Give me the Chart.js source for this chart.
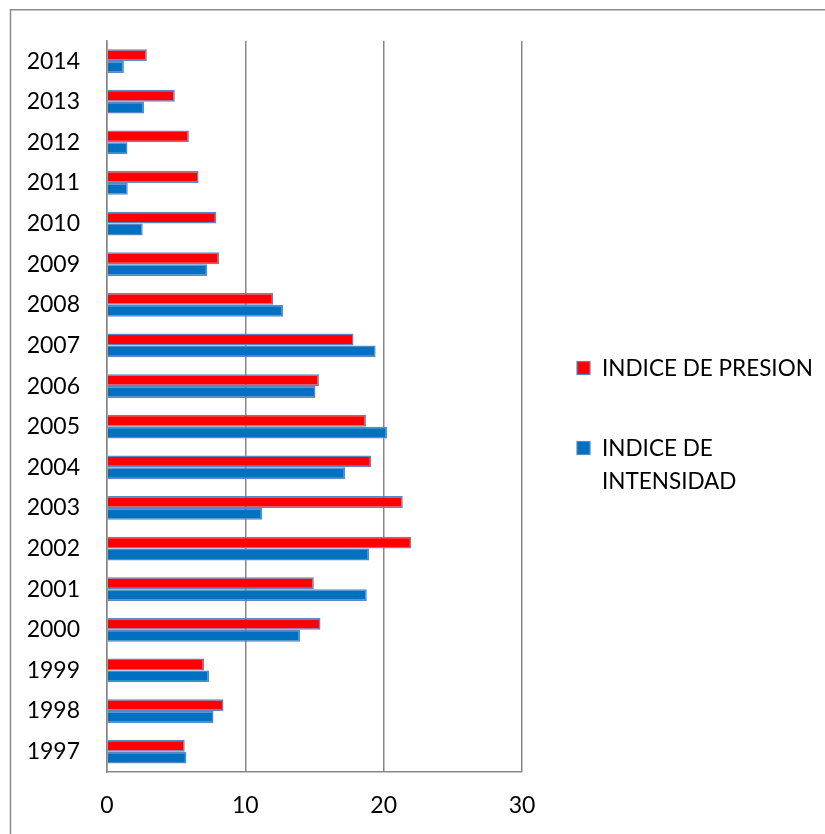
<!DOCTYPE html>
<html>
<head>
<meta charset="utf-8">
<script src="https://cdn.jsdelivr.net/npm/chart.js@4"></script>
<style>
  html, body { margin: 0; padding: 0; background: #fff; }
  canvas { display: block; }
</style>
</head>
<body>
<canvas id="c" width="825" height="834"></canvas>
<script>
const years = ['1997','1998','1999','2000','2001','2002','2003','2004','2005','2006','2007','2008','2009','2010','2011','2012','2013','2014'];
const indicePresion = [5.62, 8.42, 7.02, 15.43, 14.95, 22.0, 21.38, 19.1, 18.72, 15.32, 17.82, 12.02, 8.1, 7.9, 6.62, 5.92, 4.9, 2.88];
const indiceIntensidad = [5.74, 7.7, 7.38, 13.96, 18.78, 18.95, 11.22, 17.22, 20.25, 15.07, 19.42, 12.73, 7.25, 2.58, 1.5, 1.48, 2.68, 1.22];
const seriesLabels = ['INDICE DE PRESION', 'INDICE DE INTENSIDAD'];
const xTicks = [0, 10, 20, 30];

const FONT = 'Lato, "Open Sans", sans-serif';
const GRID = '#878787';

const framePlugin = {
  id: 'frame',
  beforeDraw(chart) {
    const ctx = chart.ctx;
    ctx.save();
    ctx.fillStyle = '#fff';
    ctx.fillRect(0, 0, chart.width, chart.height);
    ctx.strokeStyle = '#8a8a8a';
    ctx.lineWidth = 1.5;
    ctx.beginPath();
    ctx.moveTo(10.5, chart.height);
    ctx.lineTo(10.5, 9.75);
    ctx.lineTo(chart.width, 9.75);
    ctx.stroke();
    ctx.restore();
  }
};

const legendPlugin = {
  id: 'customLegend',
  afterDraw(chart) {
    const ctx = chart.ctx;
    const boxX = 577, boxSize = 13, textX = 602, maxW = 218, lineH = 33;
    let y = 368;
    ctx.save();
    ctx.font = '22.5px ' + FONT;
    ctx.textBaseline = 'middle';
    ctx.textAlign = 'left';
    chart.data.datasets.forEach(ds => {
      const words = ds.label.split(' ');
      const lines = [];
      let cur = '';
      words.forEach(w => {
        const t = cur ? cur + ' ' + w : w;
        if (ctx.measureText(t).width > maxW && cur) { lines.push(cur); cur = w; }
        else cur = t;
      });
      if (cur) lines.push(cur);
      ctx.fillStyle = ds.backgroundColor;
      ctx.fillRect(boxX, y - boxSize / 2, boxSize, boxSize);
      ctx.strokeStyle = '#5b87c4';
      ctx.lineWidth = 1.2;
      ctx.strokeRect(boxX, y - boxSize / 2, boxSize, boxSize);
      ctx.fillStyle = '#000';
      lines.forEach((ln, i) => ctx.fillText(ln, textX, y + i * lineH + 1));
      y += 80;
    });
    ctx.restore();
  }
};

new Chart(document.getElementById('c'), {
  type: 'bar',
  data: {
    labels: years,
    datasets: [
      { label: seriesLabels[0], data: indicePresion, backgroundColor: '#FF0000', borderColor: '#5b87c4', borderWidth: 1.5 },
      { label: seriesLabels[1], data: indiceIntensidad, backgroundColor: '#0070C0', borderColor: '#5b87c4', borderWidth: 1.5 }
    ]
  },
  options: {
    indexAxis: 'y',
    responsive: false,
    animation: false,
    devicePixelRatio: 1,
    layout: { padding: { top: 40, right: 303, left: 0, bottom: 0 } },
    datasets: { bar: { categoryPercentage: 0.585, barPercentage: 1 } },
    plugins: { legend: { display: false }, tooltip: { enabled: false } },
    scales: {
      x: {
        min: 0, max: 30,
        afterBuildTicks(scale) { scale.ticks = xTicks.map(v => ({ value: v })); },
        afterFit(scale) { scale.height = 62; },
        grid: { color: GRID, lineWidth: 1.5, drawTicks: false },
        border: { display: true, color: GRID, width: 1.5 },
        ticks: { color: '#000', font: { family: FONT, size: 23 }, padding: 20 }
      },
      y: {
        reverse: true,
        afterFit(scale) { scale.width = 107; },
        grid: { display: false, drawTicks: false },
        border: { display: true, color: GRID, width: 1.5 },
        ticks: { color: '#000', font: { family: FONT, size: 23 }, padding: 27 }
      }
    }
  },
  plugins: [framePlugin, legendPlugin]
});
</script>
</body>
</html>
